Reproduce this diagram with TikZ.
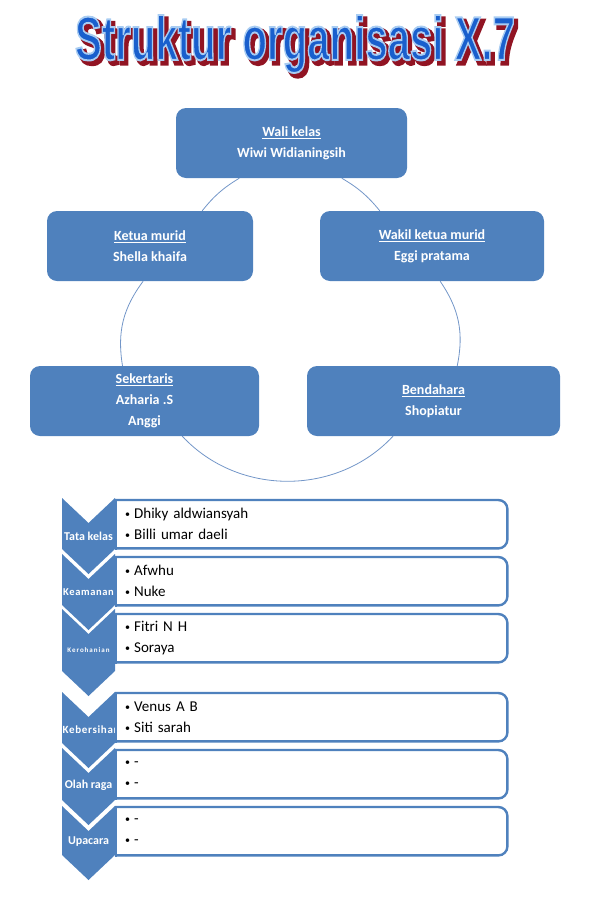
\documentclass[tikz,border=0pt]{standalone}
\usepackage{fontspec}
\usepackage{graphicx}
\setmainfont{Carlito}
\newfontfamily\titlefont{Liberation Sans}
\definecolor{cycleblue}{RGB}{79,129,189}
\definecolor{ringblue}{RGB}{115,150,200}
\definecolor{titleblue}{RGB}{25,95,205}
\definecolor{titleshade}{RGB}{145,20,35}
% title text, filled and stroked; #1 = stroke width and colour literal
\newcommand{\titleword}[1]{\resizebox*{440pt}{58pt}{\special{pdf:literal direct 2 Tr #1}\titlefont\bfseries Struktur organisasi X.7\special{pdf:literal direct 0 Tr}}}
\newcommand{\itemdot}{{\fontsize{10}{10}\selectfont\raisebox{1.2pt}{\textbullet}}\hspace{4pt}}
\tikzset{
    rolebox/.style={fill=cycleblue, rounded corners=10pt, text=white, align=center, font=\bfseries\fontsize{14}{21}\selectfont, minimum height=70pt, inner sep=0pt},
    ring/.style={draw=ringblue, line width=0.8pt},
    chevron/.style={fill=cycleblue},
    chevlabel/.style={text=white, inner sep=0pt},
    itembox/.style={fill=white, anchor=north west, align=left, text width=373pt, minimum height=48pt, inner xsep=9pt, inner ysep=0pt, font=\fontsize{15}{21}\selectfont},
    itemline/.style={draw=cycleblue, line width=2.4pt, line cap=rect},
    titletext/.style={inner sep=0pt}
}
\begin{document}
\begin{tikzpicture}[x=1pt, y=-1pt]
    \useasboundingbox (0,0) rectangle (596,900);

    % title with shadow and light edge
    \node[titletext, text=titleshade] (titleshadow) at (298.5,47.5) {\titleword{0.7 w}};
    \node[titletext, text=titleblue] (title) at (295,44) {\titleword{0.32 w 0.66 0.80 0.95 RG}};

    \node[rolebox, minimum width=231pt] (wali) at (291.5,143) {\underline{Wali kelas}\\Wiwi Widianingsih};
    \node[rolebox, minimum width=206pt] (ketua) at (150,246) {\underline{Ketua murid}\\Shella khaifa};
    \node[rolebox, minimum width=224pt] (wakil) at (432,246) {\underline{Wakil ketua murid}\\Eggi pratama};
    \node[rolebox, minimum width=229pt] (sekretaris) at (144.5,401) {\underline{Sekertaris}\\Azharia .S\\Anggi};
    \node[rolebox, minimum width=253pt] (bendahara) at (433.5,401) {\underline{Bendahara}\\Shopiatur};

    % cycle arcs
    \draw[ring] (ketua.34) to[bend left=10] (wali.-146);
    \draw[ring] (wali.-35) to[bend left=10] (wakil.146);
    \draw[ring] (wakil.-77) to[bend left=23] (bendahara.56);
    \draw[ring] (bendahara.-139) to[bend left=47] (sekretaris.-43);
    \draw[ring] (sekretaris.122) to[bend left=23] (ketua.-101);

    % chevrons of the sections
    \foreach \t/\s in {498/549, 554/605, 609/671, 692/743, 748/800, 806/855}
        \fill[chevron] (62,\t) -- (88.5,\t+25) -- (115,\t) -- (115,\s) -- (88.5,\s+25) -- (62,\s) -- cycle;

    \node[chevlabel, font=\bfseries\fontsize{12}{12}\selectfont] (tata) at (88.5,536) {Tata kelas};
    \node[chevlabel, font=\bfseries\fontsize{10.5}{12}\selectfont\addfontfeature{LetterSpace=6}] (keamanan) at (88.5,592) {Keamanan};
    \node[chevlabel, font=\bfseries\fontsize{7}{8}\selectfont\addfontfeature{LetterSpace=14}] (kerohanian) at (88.5,650) {Kerohanian};
    \node[chevlabel, anchor=west, font=\bfseries\fontsize{11}{12}\selectfont\addfontfeature{LetterSpace=6}] (kebersihan) at (62.5,730) {Kebersihan};
    \node[chevlabel, font=\bfseries\fontsize{12}{12}\selectfont] (olahraga) at (88.5,785) {Olah raga};
    \node[chevlabel, font=\bfseries\fontsize{12}{12}\selectfont] (upacara) at (88.5,842) {Upacara};

    % member lists
    \foreach \name/\top/\one/\two in {tatabox/500/Dhiky aldwiansyah/Billi umar daeli, keamananbox/557/Afwhu/Nuke, kerohanianbox/614/Fitri N H/Soraya, kebersihanbox/693/Venus A B/Siti sarah, olahragabox/750/-/-, upacarabox/807/-/-}
    {
        \node[itembox] (\name) at (116,\top) {\itemdot\one\\\itemdot\two};
        \draw[itemline, rounded corners=9pt] (\name.north west) -- (\name.north east) -- (\name.south east) -- (\name.south west);
        \draw[itemline] (\name.south west) -- (\name.north west);
    }
\end{tikzpicture}
\end{document}
